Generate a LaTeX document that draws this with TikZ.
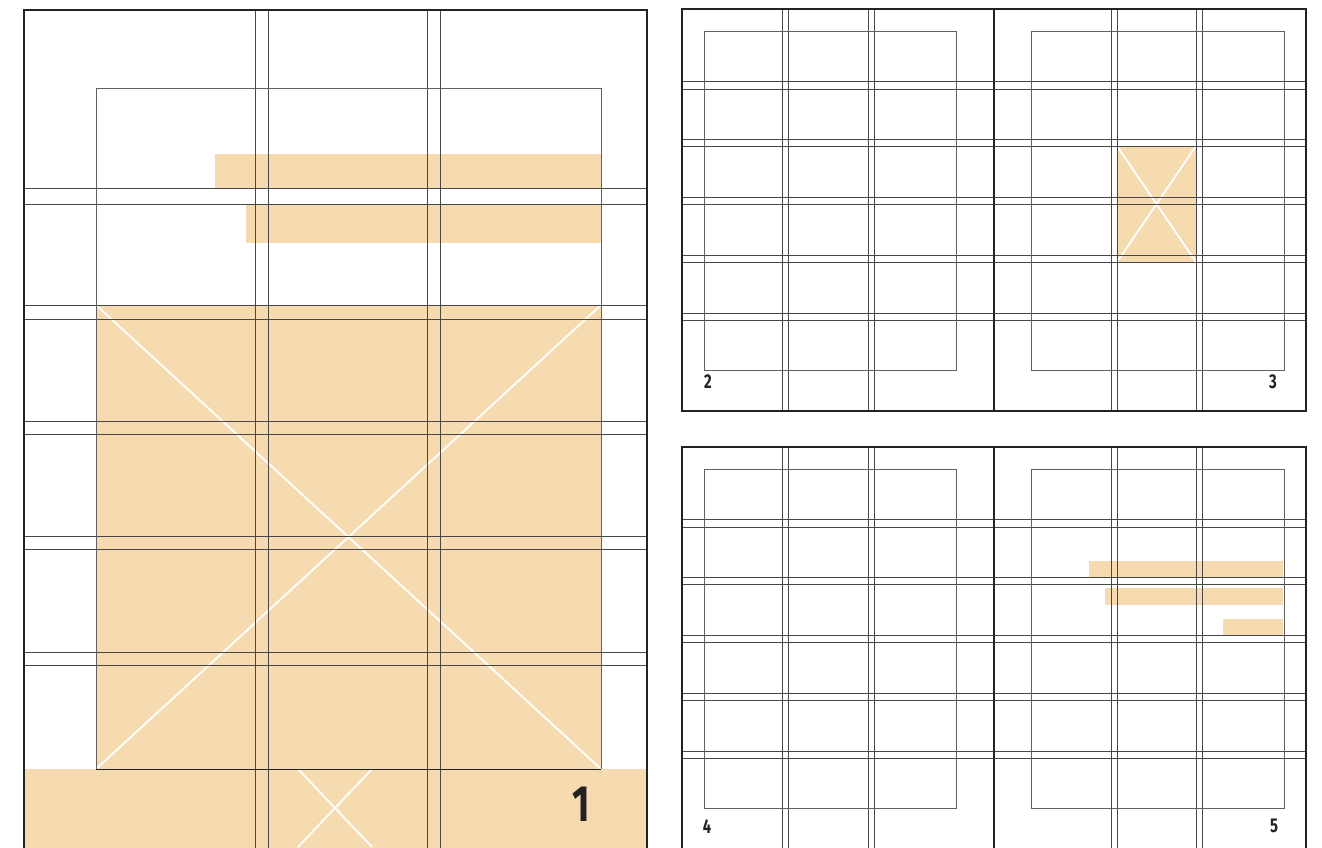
\documentclass[tikz,border=0pt]{standalone}
\usepackage{fontspec}
\newfontfamily\numfont[FakeStretch=0.74]{Fira Sans}
\definecolor{fillor}{HTML}{F7DBB0}
\definecolor{ink}{HTML}{222222}
\tikzset{
  guide/.style={draw=black!72, line width=0.9pt},
  margin/.style={draw=black!62, line width=1pt},
  frame/.style={draw=ink, line width=2.5pt},
  blockfill/.style={fill=fillor, draw=none},
  xline/.style={draw=white, line width=1.8pt},
  bignum/.style={text=ink, inner sep=0pt, font=\numfont\bfseries\fontsize{51}{51}\selectfont},
  smallnum/.style={text=ink, inner sep=0pt, font=\numfont\bfseries\fontsize{20}{20}\selectfont}
}
\begin{document}
\begin{tikzpicture}[x=1pt,y=-1pt]
\useasboundingbox (0,0) rectangle (1322,847);
\clip (0,0) rectangle (1322,847);
\fill[white] (0,0) rectangle (1322,847);

% ---------- page 1 ----------
\path[blockfill] (215,154) rectangle (601,188);
\path[blockfill] (246,204) rectangle (601,243);
\path[blockfill] (96,305) rectangle (601,769);
\path[blockfill] (24,769) rectangle (647,850);
\draw[xline] (96,305) -- (601,769);
\draw[xline] (601,305) -- (96,769);
\draw[xline] (298,769) -- (372,847);
\draw[xline] (372,769) -- (298,847);
\foreach \y in {188,204,305,319,421,434,536,549,652,665}
  \draw[guide] (24,\y) -- (647,\y);
\foreach \x in {255,268,427,440}
  \draw[guide] (\x,10) -- (\x,850);
\draw[margin] (96,769) -- (96,88) -- (601,88) -- (601,769);
\draw[draw=ink, line width=1pt] (96,769) -- (601,769);
\draw[frame] (24,852) -- (24,10) -- (647,10) -- (647,852);
\node[bignum] (n1) at (581,804) {1};

% ---------- spread 2/3 ----------
\path[blockfill] (1117,146) rectangle (1196,262);
\draw[xline] (1117,146) -- (1196,262);
\draw[xline] (1196,146) -- (1117,262);
\foreach \y in {81,89,139,146,197,204,255,262,313,320}
  \draw[guide] (682,\y) -- (1306,\y);
\foreach \x in {782,788,868,874,1111,1117,1196,1202}
  \draw[guide] (\x,9) -- (\x,411);
\draw[margin] (704,31) rectangle (956,370);
\draw[margin] (1031,31) rectangle (1284,370);
\draw[frame] (682,9) rectangle (1306,411);
\draw[frame] (994,9) -- (994,411);
\node[smallnum] (n2) at (708,382) {2};
\node[smallnum] (n3) at (1273,382) {3};

% ---------- spread 4/5 ----------
\path[blockfill] (1089,561) rectangle (1283,578);
\path[blockfill] (1105,588) rectangle (1283,605);
\path[blockfill] (1223,619) rectangle (1283,636);
\foreach \y in {81,89,139,146,197,204,255,262,313,320}
  \draw[guide] (682,\y+438) -- (1306,\y+438);
\foreach \x in {782,788,868,874,1111,1117,1196,1202}
  \draw[guide] (\x,447) -- (\x,850);
\draw[margin] (704,469) rectangle (956,808);
\draw[margin] (1031,469) rectangle (1284,808);
\draw[frame] (682,852) -- (682,447) -- (1306,447) -- (1306,852);
\draw[frame] (994,447) -- (994,852);
\node[smallnum] (n4) at (707,827) {4};
\node[smallnum] (n5) at (1274,826) {5};
\end{tikzpicture}
\end{document}
